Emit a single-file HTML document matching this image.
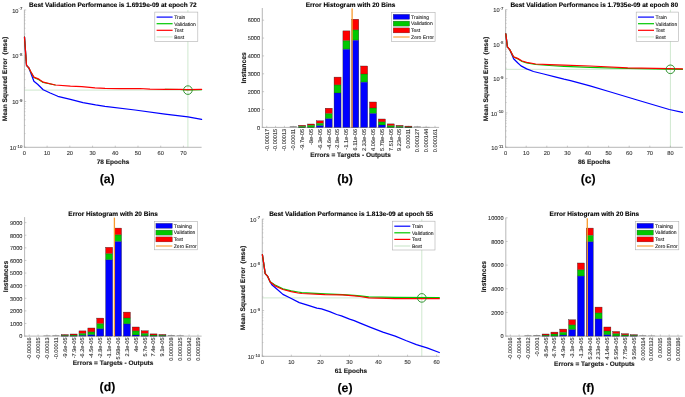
<!DOCTYPE html>
<html><head><meta charset="utf-8"><title>Neural network training plots</title>
<style>
html,body{margin:0;padding:0;background:#fff;}
body{width:685px;height:397px;overflow:hidden;font-family:"Liberation Sans", sans-serif;}
svg{display:block;filter:blur(0.3px);}
.tk{stroke:#444;stroke-width:0.12px;}
.bd{stroke:#000;stroke-width:0.12px;}
svg text{font-family:"Liberation Sans", sans-serif;text-rendering:geometricPrecision;}
</style></head><body>
<svg width="685" height="397" viewBox="0 0 685 397">
<rect width="685" height="397" fill="#fff"/>
<line x1="187.9" y1="10" x2="187.9" y2="147.3" stroke="#cfe8cf" stroke-width="1.0" />
<line x1="24.4" y1="90.1" x2="201.6" y2="90.1" stroke="#cfe8cf" stroke-width="1.0" />
<line x1="24.4" y1="9.8" x2="24.4" y2="147.7" stroke="#a4a4a4" stroke-width="0.8" />
<line x1="24" y1="147.3" x2="201.6" y2="147.3" stroke="#a4a4a4" stroke-width="0.8" />
<line x1="24.4" y1="10" x2="26.2" y2="10" stroke="#a4a4a4" stroke-width="0.6" />
<text x="22.3" y="12.6" font-size="5.7" class="tk" fill="#333333" text-anchor="end">10<tspan font-size="4.3" dy="-2.3">-7</tspan></text>
<line x1="24.4" y1="41.99" x2="25.5" y2="41.99" stroke="#a4a4a4" stroke-width="0.5" />
<line x1="24.4" y1="33.93" x2="25.5" y2="33.93" stroke="#a4a4a4" stroke-width="0.5" />
<line x1="24.4" y1="28.21" x2="25.5" y2="28.21" stroke="#a4a4a4" stroke-width="0.5" />
<line x1="24.4" y1="23.78" x2="25.5" y2="23.78" stroke="#a4a4a4" stroke-width="0.5" />
<line x1="24.4" y1="20.15" x2="25.5" y2="20.15" stroke="#a4a4a4" stroke-width="0.5" />
<line x1="24.4" y1="17.09" x2="25.5" y2="17.09" stroke="#a4a4a4" stroke-width="0.5" />
<line x1="24.4" y1="14.44" x2="25.5" y2="14.44" stroke="#a4a4a4" stroke-width="0.5" />
<line x1="24.4" y1="12.09" x2="25.5" y2="12.09" stroke="#a4a4a4" stroke-width="0.5" />
<line x1="24.4" y1="55.77" x2="26.2" y2="55.77" stroke="#a4a4a4" stroke-width="0.6" />
<text x="22.3" y="58.37" font-size="5.7" class="tk" fill="#333333" text-anchor="end">10<tspan font-size="4.3" dy="-2.3">-8</tspan></text>
<line x1="24.4" y1="87.76" x2="25.5" y2="87.76" stroke="#a4a4a4" stroke-width="0.5" />
<line x1="24.4" y1="79.7" x2="25.5" y2="79.7" stroke="#a4a4a4" stroke-width="0.5" />
<line x1="24.4" y1="73.98" x2="25.5" y2="73.98" stroke="#a4a4a4" stroke-width="0.5" />
<line x1="24.4" y1="69.54" x2="25.5" y2="69.54" stroke="#a4a4a4" stroke-width="0.5" />
<line x1="24.4" y1="65.92" x2="25.5" y2="65.92" stroke="#a4a4a4" stroke-width="0.5" />
<line x1="24.4" y1="62.86" x2="25.5" y2="62.86" stroke="#a4a4a4" stroke-width="0.5" />
<line x1="24.4" y1="60.2" x2="25.5" y2="60.2" stroke="#a4a4a4" stroke-width="0.5" />
<line x1="24.4" y1="57.86" x2="25.5" y2="57.86" stroke="#a4a4a4" stroke-width="0.5" />
<line x1="24.4" y1="101.53" x2="26.2" y2="101.53" stroke="#a4a4a4" stroke-width="0.6" />
<text x="22.3" y="104.13" font-size="5.7" class="tk" fill="#333333" text-anchor="end">10<tspan font-size="4.3" dy="-2.3">-9</tspan></text>
<line x1="24.4" y1="133.52" x2="25.5" y2="133.52" stroke="#a4a4a4" stroke-width="0.5" />
<line x1="24.4" y1="125.46" x2="25.5" y2="125.46" stroke="#a4a4a4" stroke-width="0.5" />
<line x1="24.4" y1="119.75" x2="25.5" y2="119.75" stroke="#a4a4a4" stroke-width="0.5" />
<line x1="24.4" y1="115.31" x2="25.5" y2="115.31" stroke="#a4a4a4" stroke-width="0.5" />
<line x1="24.4" y1="111.69" x2="25.5" y2="111.69" stroke="#a4a4a4" stroke-width="0.5" />
<line x1="24.4" y1="108.62" x2="25.5" y2="108.62" stroke="#a4a4a4" stroke-width="0.5" />
<line x1="24.4" y1="105.97" x2="25.5" y2="105.97" stroke="#a4a4a4" stroke-width="0.5" />
<line x1="24.4" y1="103.63" x2="25.5" y2="103.63" stroke="#a4a4a4" stroke-width="0.5" />
<line x1="24.4" y1="147.3" x2="26.2" y2="147.3" stroke="#a4a4a4" stroke-width="0.6" />
<text x="22.3" y="149.9" font-size="5.7" class="tk" fill="#333333" text-anchor="end">10<tspan font-size="4.3" dy="-2.3">-10</tspan></text>
<line x1="24.4" y1="147.3" x2="24.4" y2="145.7" stroke="#a4a4a4" stroke-width="0.6" />
<text x="24.4" y="155.2" font-size="5.7" font-weight="normal" text-anchor="middle" fill="#333333" class="tk">0</text>
<line x1="47.12" y1="147.3" x2="47.12" y2="145.7" stroke="#a4a4a4" stroke-width="0.6" />
<text x="47.12" y="155.2" font-size="5.7" font-weight="normal" text-anchor="middle" fill="#333333" class="tk">10</text>
<line x1="69.84" y1="147.3" x2="69.84" y2="145.7" stroke="#a4a4a4" stroke-width="0.6" />
<text x="69.84" y="155.2" font-size="5.7" font-weight="normal" text-anchor="middle" fill="#333333" class="tk">20</text>
<line x1="92.55" y1="147.3" x2="92.55" y2="145.7" stroke="#a4a4a4" stroke-width="0.6" />
<text x="92.55" y="155.2" font-size="5.7" font-weight="normal" text-anchor="middle" fill="#333333" class="tk">30</text>
<line x1="115.27" y1="147.3" x2="115.27" y2="145.7" stroke="#a4a4a4" stroke-width="0.6" />
<text x="115.27" y="155.2" font-size="5.7" font-weight="normal" text-anchor="middle" fill="#333333" class="tk">40</text>
<line x1="137.99" y1="147.3" x2="137.99" y2="145.7" stroke="#a4a4a4" stroke-width="0.6" />
<text x="137.99" y="155.2" font-size="5.7" font-weight="normal" text-anchor="middle" fill="#333333" class="tk">50</text>
<line x1="160.71" y1="147.3" x2="160.71" y2="145.7" stroke="#a4a4a4" stroke-width="0.6" />
<text x="160.71" y="155.2" font-size="5.7" font-weight="normal" text-anchor="middle" fill="#333333" class="tk">60</text>
<line x1="183.43" y1="147.3" x2="183.43" y2="145.7" stroke="#a4a4a4" stroke-width="0.6" />
<text x="183.43" y="155.2" font-size="5.7" font-weight="normal" text-anchor="middle" fill="#333333" class="tk">70</text>
<polyline points="24.5,37.1 26.5,65.3 28.8,67.8 33.9,81.2 37.6,84.2 43.2,89.7 50.2,93 57.8,96.3 70.4,99.3 83,102.6 95.6,104.9 105,106.3 135,110 165,114.1 188,116.8 201.6,119.4" fill="none" stroke="#0000ff" stroke-width="1.25" stroke-linejoin="round" stroke-linecap="round"/>
<polyline points="24.5,37.1 26.5,65.3 28.8,67.9 31,72.2 33.9,77.5 38.9,79.7 43.2,82.5 55.3,85" fill="none" stroke="#00c800" stroke-width="1.1" stroke-linejoin="round" stroke-linecap="round"/>
<polyline points="165,89.3 180,89.5 187,90 201.6,89.6" fill="none" stroke="#00c800" stroke-width="1.1" stroke-linejoin="round" stroke-linecap="round"/>
<polyline points="24.5,37.1 26.5,65.3 28.8,67.8 31,72 33.9,77.1 38.9,79.2 43.2,82.2 55.3,85 70.4,86.2 81.8,86.6 95,87.8 105,88.4 120,88.7 140,88.5 150,89.1 165,89.3 180,89.3 187,89.6 201.6,89.3" fill="none" stroke="#ff0000" stroke-width="1.25" stroke-linejoin="round" stroke-linecap="round"/>
<circle cx="187.9" cy="90.1" r="4.3" fill="none" stroke="#1e8a1e" stroke-width="0.9"/>
<text x="112.9" y="6.9" font-size="6.5" font-weight="bold" text-anchor="middle" fill="#000" class="bd">Best Validation Performance is 1.6919e-09 at epoch 72</text>
<text x="113" y="164.2" font-size="6.5" font-weight="bold" text-anchor="middle" fill="#222" class="bd">78 Epochs</text>
<text transform="translate(7.3,79) rotate(-90)" class="bd" font-size="6.6" font-weight="bold" text-anchor="middle" fill="#111">Mean Squared Error&#160;&#160;(mse)</text>
<rect x="154.8" y="12.1" width="43" height="29.2" fill="#fff" stroke="#b0b0b0" stroke-width="0.6"/>
<line x1="156.6" y1="17.1" x2="172.6" y2="17.1" stroke="#0000ff" stroke-width="1.2" />
<text x="174.2" y="18.9" font-size="5.0" font-weight="normal" text-anchor="start" fill="#222" class="tk">Train</text>
<line x1="156.6" y1="23.7" x2="172.6" y2="23.7" stroke="#00c800" stroke-width="1.2" />
<text x="174.2" y="25.5" font-size="5.0" font-weight="normal" text-anchor="start" fill="#222" class="tk">Validation</text>
<line x1="156.6" y1="30.3" x2="172.6" y2="30.3" stroke="#ff0000" stroke-width="1.2" />
<text x="174.2" y="32.1" font-size="5.0" font-weight="normal" text-anchor="start" fill="#222" class="tk">Test</text>
<line x1="156.6" y1="36.9" x2="172.6" y2="36.9" stroke="#cfe8cf" stroke-width="1.2" />
<text x="174.2" y="38.7" font-size="5.0" font-weight="normal" text-anchor="start" fill="#222" class="tk">Best</text>
<text x="107.2" y="182.8" font-size="12.3" font-weight="bold" text-anchor="middle" fill="#000" class="bd">(a)</text>
<line x1="670.4" y1="9.7" x2="670.4" y2="147.3" stroke="#cfe8cf" stroke-width="1.0" />
<line x1="505.6" y1="69.3" x2="682.8" y2="69.3" stroke="#cfe8cf" stroke-width="1.0" />
<line x1="505.6" y1="9.5" x2="505.6" y2="147.7" stroke="#a4a4a4" stroke-width="0.8" />
<line x1="505.2" y1="147.3" x2="682.8" y2="147.3" stroke="#a4a4a4" stroke-width="0.8" />
<line x1="505.6" y1="9.7" x2="507.4" y2="9.7" stroke="#a4a4a4" stroke-width="0.6" />
<text x="503.5" y="12.3" font-size="5.7" class="tk" fill="#333333" text-anchor="end">10<tspan font-size="4.3" dy="-2.3">-7</tspan></text>
<line x1="505.6" y1="33.74" x2="506.7" y2="33.74" stroke="#a4a4a4" stroke-width="0.5" />
<line x1="505.6" y1="27.69" x2="506.7" y2="27.69" stroke="#a4a4a4" stroke-width="0.5" />
<line x1="505.6" y1="23.39" x2="506.7" y2="23.39" stroke="#a4a4a4" stroke-width="0.5" />
<line x1="505.6" y1="20.06" x2="506.7" y2="20.06" stroke="#a4a4a4" stroke-width="0.5" />
<line x1="505.6" y1="17.33" x2="506.7" y2="17.33" stroke="#a4a4a4" stroke-width="0.5" />
<line x1="505.6" y1="15.03" x2="506.7" y2="15.03" stroke="#a4a4a4" stroke-width="0.5" />
<line x1="505.6" y1="13.03" x2="506.7" y2="13.03" stroke="#a4a4a4" stroke-width="0.5" />
<line x1="505.6" y1="11.27" x2="506.7" y2="11.27" stroke="#a4a4a4" stroke-width="0.5" />
<line x1="505.6" y1="44.1" x2="507.4" y2="44.1" stroke="#a4a4a4" stroke-width="0.6" />
<text x="503.5" y="46.7" font-size="5.7" class="tk" fill="#333333" text-anchor="end">10<tspan font-size="4.3" dy="-2.3">-8</tspan></text>
<line x1="505.6" y1="68.14" x2="506.7" y2="68.14" stroke="#a4a4a4" stroke-width="0.5" />
<line x1="505.6" y1="62.09" x2="506.7" y2="62.09" stroke="#a4a4a4" stroke-width="0.5" />
<line x1="505.6" y1="57.79" x2="506.7" y2="57.79" stroke="#a4a4a4" stroke-width="0.5" />
<line x1="505.6" y1="54.46" x2="506.7" y2="54.46" stroke="#a4a4a4" stroke-width="0.5" />
<line x1="505.6" y1="51.73" x2="506.7" y2="51.73" stroke="#a4a4a4" stroke-width="0.5" />
<line x1="505.6" y1="49.43" x2="506.7" y2="49.43" stroke="#a4a4a4" stroke-width="0.5" />
<line x1="505.6" y1="47.43" x2="506.7" y2="47.43" stroke="#a4a4a4" stroke-width="0.5" />
<line x1="505.6" y1="45.67" x2="506.7" y2="45.67" stroke="#a4a4a4" stroke-width="0.5" />
<line x1="505.6" y1="78.5" x2="507.4" y2="78.5" stroke="#a4a4a4" stroke-width="0.6" />
<text x="503.5" y="81.1" font-size="5.7" class="tk" fill="#333333" text-anchor="end">10<tspan font-size="4.3" dy="-2.3">-9</tspan></text>
<line x1="505.6" y1="102.54" x2="506.7" y2="102.54" stroke="#a4a4a4" stroke-width="0.5" />
<line x1="505.6" y1="96.49" x2="506.7" y2="96.49" stroke="#a4a4a4" stroke-width="0.5" />
<line x1="505.6" y1="92.19" x2="506.7" y2="92.19" stroke="#a4a4a4" stroke-width="0.5" />
<line x1="505.6" y1="88.86" x2="506.7" y2="88.86" stroke="#a4a4a4" stroke-width="0.5" />
<line x1="505.6" y1="86.13" x2="506.7" y2="86.13" stroke="#a4a4a4" stroke-width="0.5" />
<line x1="505.6" y1="83.83" x2="506.7" y2="83.83" stroke="#a4a4a4" stroke-width="0.5" />
<line x1="505.6" y1="81.83" x2="506.7" y2="81.83" stroke="#a4a4a4" stroke-width="0.5" />
<line x1="505.6" y1="80.07" x2="506.7" y2="80.07" stroke="#a4a4a4" stroke-width="0.5" />
<line x1="505.6" y1="112.9" x2="507.4" y2="112.9" stroke="#a4a4a4" stroke-width="0.6" />
<text x="503.5" y="115.5" font-size="5.7" class="tk" fill="#333333" text-anchor="end">10<tspan font-size="4.3" dy="-2.3">-10</tspan></text>
<line x1="505.6" y1="136.94" x2="506.7" y2="136.94" stroke="#a4a4a4" stroke-width="0.5" />
<line x1="505.6" y1="130.89" x2="506.7" y2="130.89" stroke="#a4a4a4" stroke-width="0.5" />
<line x1="505.6" y1="126.59" x2="506.7" y2="126.59" stroke="#a4a4a4" stroke-width="0.5" />
<line x1="505.6" y1="123.26" x2="506.7" y2="123.26" stroke="#a4a4a4" stroke-width="0.5" />
<line x1="505.6" y1="120.53" x2="506.7" y2="120.53" stroke="#a4a4a4" stroke-width="0.5" />
<line x1="505.6" y1="118.23" x2="506.7" y2="118.23" stroke="#a4a4a4" stroke-width="0.5" />
<line x1="505.6" y1="116.23" x2="506.7" y2="116.23" stroke="#a4a4a4" stroke-width="0.5" />
<line x1="505.6" y1="114.47" x2="506.7" y2="114.47" stroke="#a4a4a4" stroke-width="0.5" />
<line x1="505.6" y1="147.3" x2="507.4" y2="147.3" stroke="#a4a4a4" stroke-width="0.6" />
<text x="503.5" y="149.9" font-size="5.7" class="tk" fill="#333333" text-anchor="end">10<tspan font-size="4.3" dy="-2.3">-11</tspan></text>
<line x1="505.6" y1="147.3" x2="505.6" y2="145.7" stroke="#a4a4a4" stroke-width="0.6" />
<text x="505.6" y="155.2" font-size="5.7" font-weight="normal" text-anchor="middle" fill="#333333" class="tk">0</text>
<line x1="526.2" y1="147.3" x2="526.2" y2="145.7" stroke="#a4a4a4" stroke-width="0.6" />
<text x="526.2" y="155.2" font-size="5.7" font-weight="normal" text-anchor="middle" fill="#333333" class="tk">10</text>
<line x1="546.8" y1="147.3" x2="546.8" y2="145.7" stroke="#a4a4a4" stroke-width="0.6" />
<text x="546.8" y="155.2" font-size="5.7" font-weight="normal" text-anchor="middle" fill="#333333" class="tk">20</text>
<line x1="567.4" y1="147.3" x2="567.4" y2="145.7" stroke="#a4a4a4" stroke-width="0.6" />
<text x="567.4" y="155.2" font-size="5.7" font-weight="normal" text-anchor="middle" fill="#333333" class="tk">30</text>
<line x1="588" y1="147.3" x2="588" y2="145.7" stroke="#a4a4a4" stroke-width="0.6" />
<text x="588" y="155.2" font-size="5.7" font-weight="normal" text-anchor="middle" fill="#333333" class="tk">40</text>
<line x1="608.6" y1="147.3" x2="608.6" y2="145.7" stroke="#a4a4a4" stroke-width="0.6" />
<text x="608.6" y="155.2" font-size="5.7" font-weight="normal" text-anchor="middle" fill="#333333" class="tk">50</text>
<line x1="629.2" y1="147.3" x2="629.2" y2="145.7" stroke="#a4a4a4" stroke-width="0.6" />
<text x="629.2" y="155.2" font-size="5.7" font-weight="normal" text-anchor="middle" fill="#333333" class="tk">60</text>
<line x1="649.8" y1="147.3" x2="649.8" y2="145.7" stroke="#a4a4a4" stroke-width="0.6" />
<text x="649.8" y="155.2" font-size="5.7" font-weight="normal" text-anchor="middle" fill="#333333" class="tk">70</text>
<line x1="670.4" y1="147.3" x2="670.4" y2="145.7" stroke="#a4a4a4" stroke-width="0.6" />
<text x="670.4" y="155.2" font-size="5.7" font-weight="normal" text-anchor="middle" fill="#333333" class="tk">80</text>
<polyline points="505.8,33.8 507.4,46.8 509.7,49.6 513.6,58.7 517.6,62.7 521,65.9 526.7,68.9 533.5,71.5 543.7,74 555,76.8 564,79.1 570.5,80.6 590,85.9 608.9,91.5 637.2,100 669.3,109.5 682.5,112.3" fill="none" stroke="#0000ff" stroke-width="1.25" stroke-linejoin="round" stroke-linecap="round"/>
<polyline points="505.8,33.8 507.4,46.8 509.7,49.6 513.6,57 517.6,58.8 522.1,61.5 526.7,63 535.7,64.5 549.4,65.5 564,66.3 590,67.4 627.8,68.5 682.5,69.3" fill="none" stroke="#00c800" stroke-width="1.25" stroke-linejoin="round" stroke-linecap="round"/>
<polyline points="505.8,33.8 507.4,46.8 509.7,49.6 513.6,56.8 517.6,58.4 522.1,61 526.7,62.4 535.7,64 549.4,64.7 564,65.2 590,66 627.8,67.9 682.5,68.9" fill="none" stroke="#ff0000" stroke-width="1.25" stroke-linejoin="round" stroke-linecap="round"/>
<circle cx="670.4" cy="69.3" r="4.3" fill="none" stroke="#1e8a1e" stroke-width="0.9"/>
<text x="594.2" y="6.9" font-size="6.5" font-weight="bold" text-anchor="middle" fill="#000" class="bd">Best Validation Performance is 1.7935e-09 at epoch 80</text>
<text x="594.2" y="164.2" font-size="6.5" font-weight="bold" text-anchor="middle" fill="#222" class="bd">86 Epochs</text>
<text transform="translate(487.6,79) rotate(-90)" class="bd" font-size="6.6" font-weight="bold" text-anchor="middle" fill="#111">Mean Squared Error&#160;&#160;(mse)</text>
<rect x="636.2" y="12.1" width="42.3" height="29.2" fill="#fff" stroke="#b0b0b0" stroke-width="0.6"/>
<line x1="638" y1="17.1" x2="654" y2="17.1" stroke="#0000ff" stroke-width="1.2" />
<text x="655.6" y="18.9" font-size="5.0" font-weight="normal" text-anchor="start" fill="#222" class="tk">Train</text>
<line x1="638" y1="23.7" x2="654" y2="23.7" stroke="#00c800" stroke-width="1.2" />
<text x="655.6" y="25.5" font-size="5.0" font-weight="normal" text-anchor="start" fill="#222" class="tk">Validation</text>
<line x1="638" y1="30.3" x2="654" y2="30.3" stroke="#ff0000" stroke-width="1.2" />
<text x="655.6" y="32.1" font-size="5.0" font-weight="normal" text-anchor="start" fill="#222" class="tk">Test</text>
<line x1="638" y1="36.9" x2="654" y2="36.9" stroke="#cfe8cf" stroke-width="1.2" />
<text x="655.6" y="38.7" font-size="5.0" font-weight="normal" text-anchor="start" fill="#222" class="tk">Best</text>
<text x="588.2" y="182.8" font-size="12.3" font-weight="bold" text-anchor="middle" fill="#000" class="bd">(c)</text>
<line x1="421.8" y1="219.1" x2="421.8" y2="356.3" stroke="#cfe8cf" stroke-width="1.0" />
<line x1="262.3" y1="297.9" x2="439.5" y2="297.9" stroke="#cfe8cf" stroke-width="1.0" />
<line x1="262.3" y1="218.9" x2="262.3" y2="356.7" stroke="#a4a4a4" stroke-width="0.8" />
<line x1="261.9" y1="356.3" x2="439.5" y2="356.3" stroke="#a4a4a4" stroke-width="0.8" />
<line x1="262.3" y1="219.1" x2="264.1" y2="219.1" stroke="#a4a4a4" stroke-width="0.6" />
<text x="260.2" y="221.7" font-size="5.7" class="tk" fill="#333333" text-anchor="end">10<tspan font-size="4.3" dy="-2.3">-7</tspan></text>
<line x1="262.3" y1="251.07" x2="263.4" y2="251.07" stroke="#a4a4a4" stroke-width="0.5" />
<line x1="262.3" y1="243.01" x2="263.4" y2="243.01" stroke="#a4a4a4" stroke-width="0.5" />
<line x1="262.3" y1="237.3" x2="263.4" y2="237.3" stroke="#a4a4a4" stroke-width="0.5" />
<line x1="262.3" y1="232.87" x2="263.4" y2="232.87" stroke="#a4a4a4" stroke-width="0.5" />
<line x1="262.3" y1="229.25" x2="263.4" y2="229.25" stroke="#a4a4a4" stroke-width="0.5" />
<line x1="262.3" y1="226.18" x2="263.4" y2="226.18" stroke="#a4a4a4" stroke-width="0.5" />
<line x1="262.3" y1="223.53" x2="263.4" y2="223.53" stroke="#a4a4a4" stroke-width="0.5" />
<line x1="262.3" y1="221.19" x2="263.4" y2="221.19" stroke="#a4a4a4" stroke-width="0.5" />
<line x1="262.3" y1="264.83" x2="264.1" y2="264.83" stroke="#a4a4a4" stroke-width="0.6" />
<text x="260.2" y="267.43" font-size="5.7" class="tk" fill="#333333" text-anchor="end">10<tspan font-size="4.3" dy="-2.3">-8</tspan></text>
<line x1="262.3" y1="296.8" x2="263.4" y2="296.8" stroke="#a4a4a4" stroke-width="0.5" />
<line x1="262.3" y1="288.75" x2="263.4" y2="288.75" stroke="#a4a4a4" stroke-width="0.5" />
<line x1="262.3" y1="283.03" x2="263.4" y2="283.03" stroke="#a4a4a4" stroke-width="0.5" />
<line x1="262.3" y1="278.6" x2="263.4" y2="278.6" stroke="#a4a4a4" stroke-width="0.5" />
<line x1="262.3" y1="274.98" x2="263.4" y2="274.98" stroke="#a4a4a4" stroke-width="0.5" />
<line x1="262.3" y1="271.92" x2="263.4" y2="271.92" stroke="#a4a4a4" stroke-width="0.5" />
<line x1="262.3" y1="269.27" x2="263.4" y2="269.27" stroke="#a4a4a4" stroke-width="0.5" />
<line x1="262.3" y1="266.93" x2="263.4" y2="266.93" stroke="#a4a4a4" stroke-width="0.5" />
<line x1="262.3" y1="310.57" x2="264.1" y2="310.57" stroke="#a4a4a4" stroke-width="0.6" />
<text x="260.2" y="313.17" font-size="5.7" class="tk" fill="#333333" text-anchor="end">10<tspan font-size="4.3" dy="-2.3">-9</tspan></text>
<line x1="262.3" y1="342.53" x2="263.4" y2="342.53" stroke="#a4a4a4" stroke-width="0.5" />
<line x1="262.3" y1="334.48" x2="263.4" y2="334.48" stroke="#a4a4a4" stroke-width="0.5" />
<line x1="262.3" y1="328.77" x2="263.4" y2="328.77" stroke="#a4a4a4" stroke-width="0.5" />
<line x1="262.3" y1="324.33" x2="263.4" y2="324.33" stroke="#a4a4a4" stroke-width="0.5" />
<line x1="262.3" y1="320.71" x2="263.4" y2="320.71" stroke="#a4a4a4" stroke-width="0.5" />
<line x1="262.3" y1="317.65" x2="263.4" y2="317.65" stroke="#a4a4a4" stroke-width="0.5" />
<line x1="262.3" y1="315" x2="263.4" y2="315" stroke="#a4a4a4" stroke-width="0.5" />
<line x1="262.3" y1="312.66" x2="263.4" y2="312.66" stroke="#a4a4a4" stroke-width="0.5" />
<line x1="262.3" y1="356.3" x2="264.1" y2="356.3" stroke="#a4a4a4" stroke-width="0.6" />
<text x="260.2" y="358.9" font-size="5.7" class="tk" fill="#333333" text-anchor="end">10<tspan font-size="4.3" dy="-2.3">-10</tspan></text>
<line x1="262.3" y1="356.3" x2="262.3" y2="354.7" stroke="#a4a4a4" stroke-width="0.6" />
<text x="262.3" y="364.2" font-size="5.7" font-weight="normal" text-anchor="middle" fill="#333333" class="tk">0</text>
<line x1="291.35" y1="356.3" x2="291.35" y2="354.7" stroke="#a4a4a4" stroke-width="0.6" />
<text x="291.35" y="364.2" font-size="5.7" font-weight="normal" text-anchor="middle" fill="#333333" class="tk">10</text>
<line x1="320.4" y1="356.3" x2="320.4" y2="354.7" stroke="#a4a4a4" stroke-width="0.6" />
<text x="320.4" y="364.2" font-size="5.7" font-weight="normal" text-anchor="middle" fill="#333333" class="tk">20</text>
<line x1="349.45" y1="356.3" x2="349.45" y2="354.7" stroke="#a4a4a4" stroke-width="0.6" />
<text x="349.45" y="364.2" font-size="5.7" font-weight="normal" text-anchor="middle" fill="#333333" class="tk">30</text>
<line x1="378.5" y1="356.3" x2="378.5" y2="354.7" stroke="#a4a4a4" stroke-width="0.6" />
<text x="378.5" y="364.2" font-size="5.7" font-weight="normal" text-anchor="middle" fill="#333333" class="tk">40</text>
<line x1="407.55" y1="356.3" x2="407.55" y2="354.7" stroke="#a4a4a4" stroke-width="0.6" />
<text x="407.55" y="364.2" font-size="5.7" font-weight="normal" text-anchor="middle" fill="#333333" class="tk">50</text>
<line x1="436.6" y1="356.3" x2="436.6" y2="354.7" stroke="#a4a4a4" stroke-width="0.6" />
<text x="436.6" y="364.2" font-size="5.7" font-weight="normal" text-anchor="middle" fill="#333333" class="tk">60</text>
<polyline points="262.4,254.6 265.2,273.6 267.7,276.4 270.2,281.9 271.8,284.7 277.4,289.5 282.9,294.4 289.8,297.8 299.3,302.6 307.5,305.2 316.9,308.1 321.5,308.9 329.7,311.6 336.7,314.5 341.4,315.9 349.6,319.2 354.2,320.6 360.1,323.1 370.6,327.3 382.9,332.2 395.2,336.1 405.8,340.5 416.4,344.6 427,347.9 439.3,352.5" fill="none" stroke="#0000ff" stroke-width="1.25" stroke-linejoin="round" stroke-linecap="round"/>
<polyline points="262.4,254.6 265.2,273.6 267.7,276.4 270.2,281.9 274.6,284.7 282.9,288.8 291.2,290.9 298,292 301.7,292.6 325,293.9 342.6,294.7 354.2,295.3 360,295.9 368.8,296.8 395.2,297.3 439.3,297.7" fill="none" stroke="#00c800" stroke-width="1.25" stroke-linejoin="round" stroke-linecap="round"/>
<polyline points="262.4,254.6 265.2,273.6 267.7,276.4 270.2,281.9 274.6,285.6 282.9,289.5 291.2,291.6 298,293 301.7,293.5 325,294.7 342.6,294.9 354.2,295.8 360,296.5 368.8,297.9 395.2,298.7 439.3,298.7" fill="none" stroke="#ff0000" stroke-width="1.25" stroke-linejoin="round" stroke-linecap="round"/>
<circle cx="421.8" cy="297.9" r="4.3" fill="none" stroke="#1e8a1e" stroke-width="0.9"/>
<text x="351.2" y="216.1" font-size="6.5" font-weight="bold" text-anchor="middle" fill="#000" class="bd">Best Validation Performance is 1.813e-09 at epoch 55</text>
<text x="350.9" y="373.2" font-size="6.5" font-weight="bold" text-anchor="middle" fill="#222" class="bd">61 Epochs</text>
<text transform="translate(244.7,288) rotate(-90)" class="bd" font-size="6.6" font-weight="bold" text-anchor="middle" fill="#111">Mean Squared Error&#160;&#160;(mse)</text>
<rect x="392.5" y="221.2" width="42.5" height="28.8" fill="#fff" stroke="#b0b0b0" stroke-width="0.6"/>
<line x1="394.3" y1="226.2" x2="410.3" y2="226.2" stroke="#0000ff" stroke-width="1.2" />
<text x="411.9" y="228" font-size="5.0" font-weight="normal" text-anchor="start" fill="#222" class="tk">Train</text>
<line x1="394.3" y1="232.8" x2="410.3" y2="232.8" stroke="#00c800" stroke-width="1.2" />
<text x="411.9" y="234.6" font-size="5.0" font-weight="normal" text-anchor="start" fill="#222" class="tk">Validation</text>
<line x1="394.3" y1="239.4" x2="410.3" y2="239.4" stroke="#ff0000" stroke-width="1.2" />
<text x="411.9" y="241.2" font-size="5.0" font-weight="normal" text-anchor="start" fill="#222" class="tk">Test</text>
<line x1="394.3" y1="246" x2="410.3" y2="246" stroke="#cfe8cf" stroke-width="1.2" />
<text x="411.9" y="247.8" font-size="5.0" font-weight="normal" text-anchor="start" fill="#222" class="tk">Best</text>
<text x="345" y="391.6" font-size="12.3" font-weight="bold" text-anchor="middle" fill="#000" class="bd">(e)</text>
<line x1="262.3" y1="8" x2="262.3" y2="127.8" stroke="#a4a4a4" stroke-width="0.8" />
<line x1="261.9" y1="127.4" x2="439.1" y2="127.4" stroke="#a4a4a4" stroke-width="0.8" />
<line x1="262.3" y1="127.4" x2="264.1" y2="127.4" stroke="#a4a4a4" stroke-width="0.6" />
<text x="260.1" y="129.7" font-size="5.6" font-weight="normal" text-anchor="end" fill="#333333" class="tk">0</text>
<line x1="262.3" y1="109.53" x2="264.1" y2="109.53" stroke="#a4a4a4" stroke-width="0.6" />
<text x="260.1" y="111.83" font-size="5.6" font-weight="normal" text-anchor="end" fill="#333333" class="tk">1000</text>
<line x1="262.3" y1="91.66" x2="264.1" y2="91.66" stroke="#a4a4a4" stroke-width="0.6" />
<text x="260.1" y="93.96" font-size="5.6" font-weight="normal" text-anchor="end" fill="#333333" class="tk">2000</text>
<line x1="262.3" y1="73.79" x2="264.1" y2="73.79" stroke="#a4a4a4" stroke-width="0.6" />
<text x="260.1" y="76.09" font-size="5.6" font-weight="normal" text-anchor="end" fill="#333333" class="tk">3000</text>
<line x1="262.3" y1="55.92" x2="264.1" y2="55.92" stroke="#a4a4a4" stroke-width="0.6" />
<text x="260.1" y="58.22" font-size="5.6" font-weight="normal" text-anchor="end" fill="#333333" class="tk">4000</text>
<line x1="262.3" y1="38.05" x2="264.1" y2="38.05" stroke="#a4a4a4" stroke-width="0.6" />
<text x="260.1" y="40.35" font-size="5.6" font-weight="normal" text-anchor="end" fill="#333333" class="tk">5000</text>
<line x1="262.3" y1="20.18" x2="264.1" y2="20.18" stroke="#a4a4a4" stroke-width="0.6" />
<text x="260.1" y="22.48" font-size="5.6" font-weight="normal" text-anchor="end" fill="#333333" class="tk">6000</text>
<line x1="266.7" y1="127.4" x2="266.7" y2="125.8" stroke="#a4a4a4" stroke-width="0.6" />
<line x1="275.56" y1="127.4" x2="275.56" y2="125.8" stroke="#a4a4a4" stroke-width="0.6" />
<line x1="284.42" y1="127.4" x2="284.42" y2="125.8" stroke="#a4a4a4" stroke-width="0.6" />
<line x1="293.27" y1="127.4" x2="293.27" y2="125.8" stroke="#a4a4a4" stroke-width="0.6" />
<line x1="302.13" y1="127.4" x2="302.13" y2="125.8" stroke="#a4a4a4" stroke-width="0.6" />
<line x1="310.99" y1="127.4" x2="310.99" y2="125.8" stroke="#a4a4a4" stroke-width="0.6" />
<line x1="319.85" y1="127.4" x2="319.85" y2="125.8" stroke="#a4a4a4" stroke-width="0.6" />
<line x1="328.71" y1="127.4" x2="328.71" y2="125.8" stroke="#a4a4a4" stroke-width="0.6" />
<line x1="337.56" y1="127.4" x2="337.56" y2="125.8" stroke="#a4a4a4" stroke-width="0.6" />
<line x1="346.42" y1="127.4" x2="346.42" y2="125.8" stroke="#a4a4a4" stroke-width="0.6" />
<line x1="355.28" y1="127.4" x2="355.28" y2="125.8" stroke="#a4a4a4" stroke-width="0.6" />
<line x1="364.14" y1="127.4" x2="364.14" y2="125.8" stroke="#a4a4a4" stroke-width="0.6" />
<line x1="373" y1="127.4" x2="373" y2="125.8" stroke="#a4a4a4" stroke-width="0.6" />
<line x1="381.85" y1="127.4" x2="381.85" y2="125.8" stroke="#a4a4a4" stroke-width="0.6" />
<line x1="390.71" y1="127.4" x2="390.71" y2="125.8" stroke="#a4a4a4" stroke-width="0.6" />
<line x1="399.57" y1="127.4" x2="399.57" y2="125.8" stroke="#a4a4a4" stroke-width="0.6" />
<line x1="408.43" y1="127.4" x2="408.43" y2="125.8" stroke="#a4a4a4" stroke-width="0.6" />
<line x1="417.29" y1="127.4" x2="417.29" y2="125.8" stroke="#a4a4a4" stroke-width="0.6" />
<line x1="426.14" y1="127.4" x2="426.14" y2="125.8" stroke="#a4a4a4" stroke-width="0.6" />
<line x1="435" y1="127.4" x2="435" y2="125.8" stroke="#a4a4a4" stroke-width="0.6" />
<rect x="289.77" y="126.2" width="7" height="1.2" fill="#8a8a8a"/>
<rect x="298.63" y="125.3" width="7" height="1" fill="#ff0000"/>
<rect x="298.63" y="126.3" width="7" height="1.2" fill="#00c800"/>
<rect x="298.63" y="125.3" width="7" height="2.1" fill="none" stroke="#202020" stroke-width="0.35"/>
<line x1="298.63" y1="126.3" x2="305.63" y2="126.3" stroke="#202020" stroke-width="0.3" />
<line x1="298.63" y1="127.5" x2="305.63" y2="127.5" stroke="#202020" stroke-width="0.3" />
<rect x="307.49" y="124" width="7" height="1.3" fill="#ff0000"/>
<rect x="307.49" y="125.3" width="7" height="2.1" fill="#00c800"/>
<rect x="307.49" y="124" width="7" height="3.4" fill="none" stroke="#202020" stroke-width="0.35"/>
<line x1="307.49" y1="125.3" x2="314.49" y2="125.3" stroke="#202020" stroke-width="0.3" />
<line x1="307.49" y1="127.4" x2="314.49" y2="127.4" stroke="#202020" stroke-width="0.3" />
<rect x="316.35" y="120.8" width="7" height="2.5" fill="#ff0000"/>
<rect x="316.35" y="123.3" width="7" height="2.4" fill="#00c800"/>
<rect x="316.35" y="125.7" width="7" height="1.7" fill="#0000ff"/>
<rect x="316.35" y="120.8" width="7" height="6.6" fill="none" stroke="#202020" stroke-width="0.35"/>
<line x1="316.35" y1="123.3" x2="323.35" y2="123.3" stroke="#202020" stroke-width="0.3" />
<line x1="316.35" y1="125.7" x2="323.35" y2="125.7" stroke="#202020" stroke-width="0.3" />
<rect x="325.21" y="108.2" width="7" height="5.4" fill="#ff0000"/>
<rect x="325.21" y="113.6" width="7" height="5.1" fill="#00c800"/>
<rect x="325.21" y="118.7" width="7" height="8.7" fill="#0000ff"/>
<rect x="325.21" y="108.2" width="7" height="19.2" fill="none" stroke="#202020" stroke-width="0.35"/>
<line x1="325.21" y1="113.6" x2="332.21" y2="113.6" stroke="#202020" stroke-width="0.3" />
<line x1="325.21" y1="118.7" x2="332.21" y2="118.7" stroke="#202020" stroke-width="0.3" />
<rect x="334.06" y="77.1" width="7" height="7.8" fill="#ff0000"/>
<rect x="334.06" y="84.9" width="7" height="8.1" fill="#00c800"/>
<rect x="334.06" y="93" width="7" height="34.4" fill="#0000ff"/>
<rect x="334.06" y="77.1" width="7" height="50.3" fill="none" stroke="#202020" stroke-width="0.35"/>
<line x1="334.06" y1="84.9" x2="341.06" y2="84.9" stroke="#202020" stroke-width="0.3" />
<line x1="334.06" y1="93" x2="341.06" y2="93" stroke="#202020" stroke-width="0.3" />
<rect x="342.92" y="30.9" width="7" height="9.8" fill="#ff0000"/>
<rect x="342.92" y="40.7" width="7" height="8.6" fill="#00c800"/>
<rect x="342.92" y="49.3" width="7" height="78.1" fill="#0000ff"/>
<rect x="342.92" y="30.9" width="7" height="96.5" fill="none" stroke="#202020" stroke-width="0.35"/>
<line x1="342.92" y1="40.7" x2="349.92" y2="40.7" stroke="#202020" stroke-width="0.3" />
<line x1="342.92" y1="49.3" x2="349.92" y2="49.3" stroke="#202020" stroke-width="0.3" />
<rect x="351.78" y="19.2" width="7" height="10.7" fill="#ff0000"/>
<rect x="351.78" y="29.9" width="7" height="10.4" fill="#00c800"/>
<rect x="351.78" y="40.3" width="7" height="87.1" fill="#0000ff"/>
<rect x="351.78" y="19.2" width="7" height="108.2" fill="none" stroke="#202020" stroke-width="0.35"/>
<line x1="351.78" y1="29.9" x2="358.78" y2="29.9" stroke="#202020" stroke-width="0.3" />
<line x1="351.78" y1="40.3" x2="358.78" y2="40.3" stroke="#202020" stroke-width="0.3" />
<rect x="360.64" y="66" width="7" height="8" fill="#ff0000"/>
<rect x="360.64" y="74" width="7" height="8.2" fill="#00c800"/>
<rect x="360.64" y="82.2" width="7" height="45.2" fill="#0000ff"/>
<rect x="360.64" y="66" width="7" height="61.4" fill="none" stroke="#202020" stroke-width="0.35"/>
<line x1="360.64" y1="74" x2="367.64" y2="74" stroke="#202020" stroke-width="0.3" />
<line x1="360.64" y1="82.2" x2="367.64" y2="82.2" stroke="#202020" stroke-width="0.3" />
<rect x="369.5" y="102" width="7" height="6" fill="#ff0000"/>
<rect x="369.5" y="108" width="7" height="5.5" fill="#00c800"/>
<rect x="369.5" y="113.5" width="7" height="13.9" fill="#0000ff"/>
<rect x="369.5" y="102" width="7" height="25.4" fill="none" stroke="#202020" stroke-width="0.35"/>
<line x1="369.5" y1="108" x2="376.5" y2="108" stroke="#202020" stroke-width="0.3" />
<line x1="369.5" y1="113.5" x2="376.5" y2="113.5" stroke="#202020" stroke-width="0.3" />
<rect x="378.35" y="119" width="7" height="2.9" fill="#ff0000"/>
<rect x="378.35" y="121.9" width="7" height="3.1" fill="#00c800"/>
<rect x="378.35" y="125" width="7" height="2.4" fill="#0000ff"/>
<rect x="378.35" y="119" width="7" height="8.4" fill="none" stroke="#202020" stroke-width="0.35"/>
<line x1="378.35" y1="121.9" x2="385.35" y2="121.9" stroke="#202020" stroke-width="0.3" />
<line x1="378.35" y1="125" x2="385.35" y2="125" stroke="#202020" stroke-width="0.3" />
<rect x="387.21" y="123.9" width="7" height="1.8" fill="#ff0000"/>
<rect x="387.21" y="125.7" width="7" height="1.7" fill="#00c800"/>
<rect x="387.21" y="123.9" width="7" height="3.5" fill="none" stroke="#202020" stroke-width="0.35"/>
<line x1="387.21" y1="125.7" x2="394.21" y2="125.7" stroke="#202020" stroke-width="0.3" />
<line x1="387.21" y1="127.4" x2="394.21" y2="127.4" stroke="#202020" stroke-width="0.3" />
<rect x="396.07" y="125.4" width="7" height="0.9" fill="#ff0000"/>
<rect x="396.07" y="126.3" width="7" height="1.1" fill="#00c800"/>
<rect x="396.07" y="125.4" width="7" height="2" fill="none" stroke="#202020" stroke-width="0.35"/>
<line x1="396.07" y1="126.3" x2="403.07" y2="126.3" stroke="#202020" stroke-width="0.3" />
<line x1="396.07" y1="127.4" x2="403.07" y2="127.4" stroke="#202020" stroke-width="0.3" />
<rect x="404.93" y="126.1" width="7" height="0.8" fill="#ff0000"/>
<rect x="404.93" y="126.9" width="7" height="0.6" fill="#00c800"/>
<rect x="404.93" y="126.1" width="7" height="1.3" fill="none" stroke="#202020" stroke-width="0.35"/>
<line x1="404.93" y1="126.9" x2="411.93" y2="126.9" stroke="#202020" stroke-width="0.3" />
<line x1="404.93" y1="127.5" x2="411.93" y2="127.5" stroke="#202020" stroke-width="0.3" />
<rect x="413.79" y="126.4" width="7" height="1" fill="#8a8a8a"/>
<rect x="422.64" y="126.9" width="7" height="0.5" fill="#8a8a8a"/>
<text transform="translate(268.6,128.8) rotate(-90)" class="tk" font-size="5.6" text-anchor="end" fill="#333333">-0.00017</text>
<text transform="translate(277.46,128.8) rotate(-90)" class="tk" font-size="5.6" text-anchor="end" fill="#333333">-0.00015</text>
<text transform="translate(286.32,128.8) rotate(-90)" class="tk" font-size="5.6" text-anchor="end" fill="#333333">-0.00013</text>
<text transform="translate(295.17,128.8) rotate(-90)" class="tk" font-size="5.6" text-anchor="end" fill="#333333">-0.00011</text>
<text transform="translate(304.03,128.8) rotate(-90)" class="tk" font-size="5.6" text-anchor="end" fill="#333333">-9.7e-05</text>
<text transform="translate(312.89,128.8) rotate(-90)" class="tk" font-size="5.6" text-anchor="end" fill="#333333">-8e-05</text>
<text transform="translate(321.75,128.8) rotate(-90)" class="tk" font-size="5.6" text-anchor="end" fill="#333333">-6.3e-05</text>
<text transform="translate(330.61,128.8) rotate(-90)" class="tk" font-size="5.6" text-anchor="end" fill="#333333">-4.6e-05</text>
<text transform="translate(339.46,128.8) rotate(-90)" class="tk" font-size="5.6" text-anchor="end" fill="#333333">-2.8e-05</text>
<text transform="translate(348.32,128.8) rotate(-90)" class="tk" font-size="5.6" text-anchor="end" fill="#333333">-1.1e-05</text>
<text transform="translate(357.18,128.8) rotate(-90)" class="tk" font-size="5.6" text-anchor="end" fill="#333333">6.11e-06</text>
<text transform="translate(366.04,128.8) rotate(-90)" class="tk" font-size="5.6" text-anchor="end" fill="#333333">2.33e-05</text>
<text transform="translate(374.9,128.8) rotate(-90)" class="tk" font-size="5.6" text-anchor="end" fill="#333333">4.06e-05</text>
<text transform="translate(383.75,128.8) rotate(-90)" class="tk" font-size="5.6" text-anchor="end" fill="#333333">5.78e-05</text>
<text transform="translate(392.61,128.8) rotate(-90)" class="tk" font-size="5.6" text-anchor="end" fill="#333333">7.51e-05</text>
<text transform="translate(401.47,128.8) rotate(-90)" class="tk" font-size="5.6" text-anchor="end" fill="#333333">9.23e-05</text>
<text transform="translate(410.33,128.8) rotate(-90)" class="tk" font-size="5.6" text-anchor="end" fill="#333333">0.00011</text>
<text transform="translate(419.19,128.8) rotate(-90)" class="tk" font-size="5.6" text-anchor="end" fill="#333333">0.000127</text>
<text transform="translate(428.04,128.8) rotate(-90)" class="tk" font-size="5.6" text-anchor="end" fill="#333333">0.000144</text>
<text transform="translate(436.9,128.8) rotate(-90)" class="tk" font-size="5.6" text-anchor="end" fill="#333333">0.000161</text>
<line x1="352.1" y1="8.5" x2="352.1" y2="127.4" stroke="#f79a2c" stroke-width="1.3" />
<text x="350.5" y="7.2" font-size="6.5" font-weight="bold" text-anchor="middle" fill="#000" class="bd">Error Histogram with 20 Bins</text>
<text x="350.5" y="156.5" font-size="6.5" font-weight="bold" text-anchor="middle" fill="#222" class="bd">Errors = Targets - Outputs</text>
<text transform="translate(245.5,67.9) rotate(-90)" class="bd" font-size="6.8" font-weight="bold" text-anchor="middle" fill="#111">Instances</text>
<rect x="391.6" y="12.4" width="43.5" height="28.9" fill="#fff" stroke="#b0b0b0" stroke-width="0.6"/>
<rect x="393.2" y="14.3" width="16.4" height="5" fill="#0000ff" stroke="#303030" stroke-width="0.3"/>
<text x="411.1" y="18.6" font-size="5.0" font-weight="normal" text-anchor="start" fill="#222" class="tk">Training</text>
<rect x="393.2" y="21.1" width="16.4" height="5" fill="#00c800" stroke="#303030" stroke-width="0.3"/>
<text x="411.1" y="25.4" font-size="5.0" font-weight="normal" text-anchor="start" fill="#222" class="tk">Validation</text>
<rect x="393.2" y="27.9" width="16.4" height="5" fill="#ff0000" stroke="#303030" stroke-width="0.3"/>
<text x="411.1" y="32.2" font-size="5.0" font-weight="normal" text-anchor="start" fill="#222" class="tk">Test</text>
<line x1="393.2" y1="37" x2="409.6" y2="37" stroke="#f79a2c" stroke-width="1.1" />
<text x="411.1" y="38.8" font-size="5.0" font-weight="normal" text-anchor="start" fill="#222" class="tk">Zero Error</text>
<text x="345" y="182.9" font-size="12.3" font-weight="bold" text-anchor="middle" fill="#000" class="bd">(b)</text>
<line x1="24.6" y1="217.1" x2="24.6" y2="336.5" stroke="#a4a4a4" stroke-width="0.8" />
<line x1="24.2" y1="336.1" x2="201.6" y2="336.1" stroke="#a4a4a4" stroke-width="0.8" />
<line x1="24.6" y1="336.1" x2="26.4" y2="336.1" stroke="#a4a4a4" stroke-width="0.6" />
<text x="22.4" y="338.4" font-size="5.6" font-weight="normal" text-anchor="end" fill="#333333" class="tk">0</text>
<line x1="24.6" y1="323.49" x2="26.4" y2="323.49" stroke="#a4a4a4" stroke-width="0.6" />
<text x="22.4" y="325.79" font-size="5.6" font-weight="normal" text-anchor="end" fill="#333333" class="tk">1000</text>
<line x1="24.6" y1="310.88" x2="26.4" y2="310.88" stroke="#a4a4a4" stroke-width="0.6" />
<text x="22.4" y="313.18" font-size="5.6" font-weight="normal" text-anchor="end" fill="#333333" class="tk">2000</text>
<line x1="24.6" y1="298.27" x2="26.4" y2="298.27" stroke="#a4a4a4" stroke-width="0.6" />
<text x="22.4" y="300.57" font-size="5.6" font-weight="normal" text-anchor="end" fill="#333333" class="tk">3000</text>
<line x1="24.6" y1="285.66" x2="26.4" y2="285.66" stroke="#a4a4a4" stroke-width="0.6" />
<text x="22.4" y="287.96" font-size="5.6" font-weight="normal" text-anchor="end" fill="#333333" class="tk">4000</text>
<line x1="24.6" y1="273.05" x2="26.4" y2="273.05" stroke="#a4a4a4" stroke-width="0.6" />
<text x="22.4" y="275.35" font-size="5.6" font-weight="normal" text-anchor="end" fill="#333333" class="tk">5000</text>
<line x1="24.6" y1="260.44" x2="26.4" y2="260.44" stroke="#a4a4a4" stroke-width="0.6" />
<text x="22.4" y="262.74" font-size="5.6" font-weight="normal" text-anchor="end" fill="#333333" class="tk">6000</text>
<line x1="24.6" y1="247.83" x2="26.4" y2="247.83" stroke="#a4a4a4" stroke-width="0.6" />
<text x="22.4" y="250.13" font-size="5.6" font-weight="normal" text-anchor="end" fill="#333333" class="tk">7000</text>
<line x1="24.6" y1="235.22" x2="26.4" y2="235.22" stroke="#a4a4a4" stroke-width="0.6" />
<text x="22.4" y="237.52" font-size="5.6" font-weight="normal" text-anchor="end" fill="#333333" class="tk">8000</text>
<line x1="24.6" y1="222.61" x2="26.4" y2="222.61" stroke="#a4a4a4" stroke-width="0.6" />
<text x="22.4" y="224.91" font-size="5.6" font-weight="normal" text-anchor="end" fill="#333333" class="tk">9000</text>
<line x1="29.2" y1="336.1" x2="29.2" y2="334.5" stroke="#a4a4a4" stroke-width="0.6" />
<line x1="38.08" y1="336.1" x2="38.08" y2="334.5" stroke="#a4a4a4" stroke-width="0.6" />
<line x1="46.96" y1="336.1" x2="46.96" y2="334.5" stroke="#a4a4a4" stroke-width="0.6" />
<line x1="55.85" y1="336.1" x2="55.85" y2="334.5" stroke="#a4a4a4" stroke-width="0.6" />
<line x1="64.73" y1="336.1" x2="64.73" y2="334.5" stroke="#a4a4a4" stroke-width="0.6" />
<line x1="73.61" y1="336.1" x2="73.61" y2="334.5" stroke="#a4a4a4" stroke-width="0.6" />
<line x1="82.49" y1="336.1" x2="82.49" y2="334.5" stroke="#a4a4a4" stroke-width="0.6" />
<line x1="91.37" y1="336.1" x2="91.37" y2="334.5" stroke="#a4a4a4" stroke-width="0.6" />
<line x1="100.26" y1="336.1" x2="100.26" y2="334.5" stroke="#a4a4a4" stroke-width="0.6" />
<line x1="109.14" y1="336.1" x2="109.14" y2="334.5" stroke="#a4a4a4" stroke-width="0.6" />
<line x1="118.02" y1="336.1" x2="118.02" y2="334.5" stroke="#a4a4a4" stroke-width="0.6" />
<line x1="126.9" y1="336.1" x2="126.9" y2="334.5" stroke="#a4a4a4" stroke-width="0.6" />
<line x1="135.78" y1="336.1" x2="135.78" y2="334.5" stroke="#a4a4a4" stroke-width="0.6" />
<line x1="144.67" y1="336.1" x2="144.67" y2="334.5" stroke="#a4a4a4" stroke-width="0.6" />
<line x1="153.55" y1="336.1" x2="153.55" y2="334.5" stroke="#a4a4a4" stroke-width="0.6" />
<line x1="162.43" y1="336.1" x2="162.43" y2="334.5" stroke="#a4a4a4" stroke-width="0.6" />
<line x1="171.31" y1="336.1" x2="171.31" y2="334.5" stroke="#a4a4a4" stroke-width="0.6" />
<line x1="180.19" y1="336.1" x2="180.19" y2="334.5" stroke="#a4a4a4" stroke-width="0.6" />
<line x1="189.08" y1="336.1" x2="189.08" y2="334.5" stroke="#a4a4a4" stroke-width="0.6" />
<line x1="197.96" y1="336.1" x2="197.96" y2="334.5" stroke="#a4a4a4" stroke-width="0.6" />
<rect x="43.46" y="335.5" width="7" height="0.6" fill="#8a8a8a"/>
<rect x="52.35" y="335.3" width="7" height="0.8" fill="#8a8a8a"/>
<rect x="61.23" y="334.6" width="7" height="0.8" fill="#ff0000"/>
<rect x="61.23" y="335.4" width="7" height="0.6" fill="#00c800"/>
<rect x="61.23" y="336" width="7" height="0.1" fill="#0000ff"/>
<rect x="61.23" y="334.6" width="7" height="1.5" fill="none" stroke="#202020" stroke-width="0.35"/>
<line x1="61.23" y1="335.4" x2="68.23" y2="335.4" stroke="#202020" stroke-width="0.3" />
<line x1="61.23" y1="336" x2="68.23" y2="336" stroke="#202020" stroke-width="0.3" />
<rect x="70.11" y="334" width="7" height="1.1" fill="#ff0000"/>
<rect x="70.11" y="335.1" width="7" height="0.9" fill="#00c800"/>
<rect x="70.11" y="336" width="7" height="0.1" fill="#0000ff"/>
<rect x="70.11" y="334" width="7" height="2.1" fill="none" stroke="#202020" stroke-width="0.35"/>
<line x1="70.11" y1="335.1" x2="77.11" y2="335.1" stroke="#202020" stroke-width="0.3" />
<line x1="70.11" y1="336" x2="77.11" y2="336" stroke="#202020" stroke-width="0.3" />
<rect x="78.99" y="330.9" width="7" height="2.6" fill="#ff0000"/>
<rect x="78.99" y="333.5" width="7" height="2" fill="#00c800"/>
<rect x="78.99" y="335.5" width="7" height="0.6" fill="#0000ff"/>
<rect x="78.99" y="330.9" width="7" height="5.2" fill="none" stroke="#202020" stroke-width="0.35"/>
<line x1="78.99" y1="333.5" x2="85.99" y2="333.5" stroke="#202020" stroke-width="0.3" />
<line x1="78.99" y1="335.5" x2="85.99" y2="335.5" stroke="#202020" stroke-width="0.3" />
<rect x="87.87" y="328" width="7" height="3.9" fill="#ff0000"/>
<rect x="87.87" y="331.9" width="7" height="2.9" fill="#00c800"/>
<rect x="87.87" y="334.8" width="7" height="1.3" fill="#0000ff"/>
<rect x="87.87" y="328" width="7" height="8.1" fill="none" stroke="#202020" stroke-width="0.35"/>
<line x1="87.87" y1="331.9" x2="94.87" y2="331.9" stroke="#202020" stroke-width="0.3" />
<line x1="87.87" y1="334.8" x2="94.87" y2="334.8" stroke="#202020" stroke-width="0.3" />
<rect x="96.76" y="318.1" width="7" height="5.6" fill="#ff0000"/>
<rect x="96.76" y="323.7" width="7" height="5.1" fill="#00c800"/>
<rect x="96.76" y="328.8" width="7" height="7.3" fill="#0000ff"/>
<rect x="96.76" y="318.1" width="7" height="18" fill="none" stroke="#202020" stroke-width="0.35"/>
<line x1="96.76" y1="323.7" x2="103.76" y2="323.7" stroke="#202020" stroke-width="0.3" />
<line x1="96.76" y1="328.8" x2="103.76" y2="328.8" stroke="#202020" stroke-width="0.3" />
<rect x="105.64" y="247.3" width="7" height="6.4" fill="#ff0000"/>
<rect x="105.64" y="253.7" width="7" height="6.1" fill="#00c800"/>
<rect x="105.64" y="259.8" width="7" height="76.3" fill="#0000ff"/>
<rect x="105.64" y="247.3" width="7" height="88.8" fill="none" stroke="#202020" stroke-width="0.35"/>
<line x1="105.64" y1="253.7" x2="112.64" y2="253.7" stroke="#202020" stroke-width="0.3" />
<line x1="105.64" y1="259.8" x2="112.64" y2="259.8" stroke="#202020" stroke-width="0.3" />
<rect x="114.52" y="228.1" width="7" height="6.7" fill="#ff0000"/>
<rect x="114.52" y="234.8" width="7" height="6.8" fill="#00c800"/>
<rect x="114.52" y="241.6" width="7" height="94.5" fill="#0000ff"/>
<rect x="114.52" y="228.1" width="7" height="108" fill="none" stroke="#202020" stroke-width="0.35"/>
<line x1="114.52" y1="234.8" x2="121.52" y2="234.8" stroke="#202020" stroke-width="0.3" />
<line x1="114.52" y1="241.6" x2="121.52" y2="241.6" stroke="#202020" stroke-width="0.3" />
<rect x="123.4" y="312.1" width="7" height="5.9" fill="#ff0000"/>
<rect x="123.4" y="318" width="7" height="5.9" fill="#00c800"/>
<rect x="123.4" y="323.9" width="7" height="12.2" fill="#0000ff"/>
<rect x="123.4" y="312.1" width="7" height="24" fill="none" stroke="#202020" stroke-width="0.35"/>
<line x1="123.4" y1="318" x2="130.4" y2="318" stroke="#202020" stroke-width="0.3" />
<line x1="123.4" y1="323.9" x2="130.4" y2="323.9" stroke="#202020" stroke-width="0.3" />
<rect x="132.28" y="327" width="7" height="3.9" fill="#ff0000"/>
<rect x="132.28" y="330.9" width="7" height="4.1" fill="#00c800"/>
<rect x="132.28" y="335" width="7" height="1.1" fill="#0000ff"/>
<rect x="132.28" y="327" width="7" height="9.1" fill="none" stroke="#202020" stroke-width="0.35"/>
<line x1="132.28" y1="330.9" x2="139.28" y2="330.9" stroke="#202020" stroke-width="0.3" />
<line x1="132.28" y1="335" x2="139.28" y2="335" stroke="#202020" stroke-width="0.3" />
<rect x="141.17" y="330.8" width="7" height="2.7" fill="#ff0000"/>
<rect x="141.17" y="333.5" width="7" height="2.4" fill="#00c800"/>
<rect x="141.17" y="335.9" width="7" height="0.2" fill="#0000ff"/>
<rect x="141.17" y="330.8" width="7" height="5.3" fill="none" stroke="#202020" stroke-width="0.35"/>
<line x1="141.17" y1="333.5" x2="148.17" y2="333.5" stroke="#202020" stroke-width="0.3" />
<line x1="141.17" y1="335.9" x2="148.17" y2="335.9" stroke="#202020" stroke-width="0.3" />
<rect x="150.05" y="333.9" width="7" height="1.1" fill="#ff0000"/>
<rect x="150.05" y="335" width="7" height="1" fill="#00c800"/>
<rect x="150.05" y="336" width="7" height="0.1" fill="#0000ff"/>
<rect x="150.05" y="333.9" width="7" height="2.2" fill="none" stroke="#202020" stroke-width="0.35"/>
<line x1="150.05" y1="335" x2="157.05" y2="335" stroke="#202020" stroke-width="0.3" />
<line x1="150.05" y1="336" x2="157.05" y2="336" stroke="#202020" stroke-width="0.3" />
<rect x="158.93" y="334.5" width="7" height="0.8" fill="#ff0000"/>
<rect x="158.93" y="335.3" width="7" height="0.7" fill="#00c800"/>
<rect x="158.93" y="336" width="7" height="0.1" fill="#0000ff"/>
<rect x="158.93" y="334.5" width="7" height="1.6" fill="none" stroke="#202020" stroke-width="0.35"/>
<line x1="158.93" y1="335.3" x2="165.93" y2="335.3" stroke="#202020" stroke-width="0.3" />
<line x1="158.93" y1="336" x2="165.93" y2="336" stroke="#202020" stroke-width="0.3" />
<rect x="167.81" y="335.1" width="7" height="1" fill="#8a8a8a"/>
<rect x="176.69" y="335.4" width="7" height="0.7" fill="#8a8a8a"/>
<text transform="translate(31.1,337.5) rotate(-90)" class="tk" font-size="5.6" text-anchor="end" fill="#333333">-0.00016</text>
<text transform="translate(39.98,337.5) rotate(-90)" class="tk" font-size="5.6" text-anchor="end" fill="#333333">-0.00015</text>
<text transform="translate(48.86,337.5) rotate(-90)" class="tk" font-size="5.6" text-anchor="end" fill="#333333">-0.00013</text>
<text transform="translate(57.75,337.5) rotate(-90)" class="tk" font-size="5.6" text-anchor="end" fill="#333333">-0.00011</text>
<text transform="translate(66.63,337.5) rotate(-90)" class="tk" font-size="5.6" text-anchor="end" fill="#333333">-9.6e-05</text>
<text transform="translate(75.51,337.5) rotate(-90)" class="tk" font-size="5.6" text-anchor="end" fill="#333333">-7.9e-05</text>
<text transform="translate(84.39,337.5) rotate(-90)" class="tk" font-size="5.6" text-anchor="end" fill="#333333">-6.2e-05</text>
<text transform="translate(93.27,337.5) rotate(-90)" class="tk" font-size="5.6" text-anchor="end" fill="#333333">-4.5e-05</text>
<text transform="translate(102.16,337.5) rotate(-90)" class="tk" font-size="5.6" text-anchor="end" fill="#333333">-2.8e-05</text>
<text transform="translate(111.04,337.5) rotate(-90)" class="tk" font-size="5.6" text-anchor="end" fill="#333333">-1.1e-05</text>
<text transform="translate(119.92,337.5) rotate(-90)" class="tk" font-size="5.6" text-anchor="end" fill="#333333">5.98e-06</text>
<text transform="translate(128.8,337.5) rotate(-90)" class="tk" font-size="5.6" text-anchor="end" fill="#333333">2.3e-05</text>
<text transform="translate(137.68,337.5) rotate(-90)" class="tk" font-size="5.6" text-anchor="end" fill="#333333">4e-05</text>
<text transform="translate(146.57,337.5) rotate(-90)" class="tk" font-size="5.6" text-anchor="end" fill="#333333">5.7e-05</text>
<text transform="translate(155.45,337.5) rotate(-90)" class="tk" font-size="5.6" text-anchor="end" fill="#333333">7.4e-05</text>
<text transform="translate(164.33,337.5) rotate(-90)" class="tk" font-size="5.6" text-anchor="end" fill="#333333">9.1e-05</text>
<text transform="translate(173.21,337.5) rotate(-90)" class="tk" font-size="5.6" text-anchor="end" fill="#333333">0.000108</text>
<text transform="translate(182.09,337.5) rotate(-90)" class="tk" font-size="5.6" text-anchor="end" fill="#333333">0.000125</text>
<text transform="translate(190.98,337.5) rotate(-90)" class="tk" font-size="5.6" text-anchor="end" fill="#333333">0.000142</text>
<text transform="translate(199.86,337.5) rotate(-90)" class="tk" font-size="5.6" text-anchor="end" fill="#333333">0.000159</text>
<line x1="114.4" y1="217.6" x2="114.4" y2="336.1" stroke="#f79a2c" stroke-width="1.3" />
<text x="113.1" y="216.1" font-size="6.5" font-weight="bold" text-anchor="middle" fill="#000" class="bd">Error Histogram with 20 Bins</text>
<text x="113.1" y="365.3" font-size="6.5" font-weight="bold" text-anchor="middle" fill="#222" class="bd">Errors = Targets - Outputs</text>
<text transform="translate(7.5,276.5) rotate(-90)" class="bd" font-size="6.8" font-weight="bold" text-anchor="middle" fill="#111">Instances</text>
<rect x="154.3" y="221.4" width="43.2" height="28.4" fill="#fff" stroke="#b0b0b0" stroke-width="0.6"/>
<rect x="155.9" y="223.3" width="16.4" height="5" fill="#0000ff" stroke="#303030" stroke-width="0.3"/>
<text x="173.8" y="227.6" font-size="5.0" font-weight="normal" text-anchor="start" fill="#222" class="tk">Training</text>
<rect x="155.9" y="230.1" width="16.4" height="5" fill="#00c800" stroke="#303030" stroke-width="0.3"/>
<text x="173.8" y="234.4" font-size="5.0" font-weight="normal" text-anchor="start" fill="#222" class="tk">Validation</text>
<rect x="155.9" y="236.9" width="16.4" height="5" fill="#ff0000" stroke="#303030" stroke-width="0.3"/>
<text x="173.8" y="241.2" font-size="5.0" font-weight="normal" text-anchor="start" fill="#222" class="tk">Test</text>
<line x1="155.9" y1="246" x2="172.3" y2="246" stroke="#f79a2c" stroke-width="1.1" />
<text x="173.8" y="247.8" font-size="5.0" font-weight="normal" text-anchor="start" fill="#222" class="tk">Zero Error</text>
<text x="107.4" y="390.7" font-size="12.3" font-weight="bold" text-anchor="middle" fill="#000" class="bd">(d)</text>
<line x1="505.8" y1="217.7" x2="505.8" y2="336.5" stroke="#a4a4a4" stroke-width="0.8" />
<line x1="505.4" y1="336.1" x2="682.6" y2="336.1" stroke="#a4a4a4" stroke-width="0.8" />
<line x1="505.8" y1="336.1" x2="507.6" y2="336.1" stroke="#a4a4a4" stroke-width="0.6" />
<text x="503.6" y="338.4" font-size="5.6" font-weight="normal" text-anchor="end" fill="#333333" class="tk">0</text>
<line x1="505.8" y1="312.44" x2="507.6" y2="312.44" stroke="#a4a4a4" stroke-width="0.6" />
<text x="503.6" y="314.74" font-size="5.6" font-weight="normal" text-anchor="end" fill="#333333" class="tk">2000</text>
<line x1="505.8" y1="288.78" x2="507.6" y2="288.78" stroke="#a4a4a4" stroke-width="0.6" />
<text x="503.6" y="291.08" font-size="5.6" font-weight="normal" text-anchor="end" fill="#333333" class="tk">4000</text>
<line x1="505.8" y1="265.12" x2="507.6" y2="265.12" stroke="#a4a4a4" stroke-width="0.6" />
<text x="503.6" y="267.42" font-size="5.6" font-weight="normal" text-anchor="end" fill="#333333" class="tk">6000</text>
<line x1="505.8" y1="241.46" x2="507.6" y2="241.46" stroke="#a4a4a4" stroke-width="0.6" />
<text x="503.6" y="243.76" font-size="5.6" font-weight="normal" text-anchor="end" fill="#333333" class="tk">8000</text>
<line x1="505.8" y1="217.8" x2="507.6" y2="217.8" stroke="#a4a4a4" stroke-width="0.6" />
<text x="503.6" y="220.1" font-size="5.6" font-weight="normal" text-anchor="end" fill="#333333" class="tk">10000</text>
<line x1="510.3" y1="336.1" x2="510.3" y2="334.5" stroke="#a4a4a4" stroke-width="0.6" />
<line x1="519.13" y1="336.1" x2="519.13" y2="334.5" stroke="#a4a4a4" stroke-width="0.6" />
<line x1="527.95" y1="336.1" x2="527.95" y2="334.5" stroke="#a4a4a4" stroke-width="0.6" />
<line x1="536.78" y1="336.1" x2="536.78" y2="334.5" stroke="#a4a4a4" stroke-width="0.6" />
<line x1="545.6" y1="336.1" x2="545.6" y2="334.5" stroke="#a4a4a4" stroke-width="0.6" />
<line x1="554.43" y1="336.1" x2="554.43" y2="334.5" stroke="#a4a4a4" stroke-width="0.6" />
<line x1="563.26" y1="336.1" x2="563.26" y2="334.5" stroke="#a4a4a4" stroke-width="0.6" />
<line x1="572.08" y1="336.1" x2="572.08" y2="334.5" stroke="#a4a4a4" stroke-width="0.6" />
<line x1="580.91" y1="336.1" x2="580.91" y2="334.5" stroke="#a4a4a4" stroke-width="0.6" />
<line x1="589.73" y1="336.1" x2="589.73" y2="334.5" stroke="#a4a4a4" stroke-width="0.6" />
<line x1="598.56" y1="336.1" x2="598.56" y2="334.5" stroke="#a4a4a4" stroke-width="0.6" />
<line x1="607.39" y1="336.1" x2="607.39" y2="334.5" stroke="#a4a4a4" stroke-width="0.6" />
<line x1="616.21" y1="336.1" x2="616.21" y2="334.5" stroke="#a4a4a4" stroke-width="0.6" />
<line x1="625.04" y1="336.1" x2="625.04" y2="334.5" stroke="#a4a4a4" stroke-width="0.6" />
<line x1="633.86" y1="336.1" x2="633.86" y2="334.5" stroke="#a4a4a4" stroke-width="0.6" />
<line x1="642.69" y1="336.1" x2="642.69" y2="334.5" stroke="#a4a4a4" stroke-width="0.6" />
<line x1="651.52" y1="336.1" x2="651.52" y2="334.5" stroke="#a4a4a4" stroke-width="0.6" />
<line x1="660.34" y1="336.1" x2="660.34" y2="334.5" stroke="#a4a4a4" stroke-width="0.6" />
<line x1="669.17" y1="336.1" x2="669.17" y2="334.5" stroke="#a4a4a4" stroke-width="0.6" />
<line x1="677.99" y1="336.1" x2="677.99" y2="334.5" stroke="#a4a4a4" stroke-width="0.6" />
<rect x="524.45" y="335.3" width="7" height="0.8" fill="#8a8a8a"/>
<rect x="533.28" y="335" width="7" height="1.1" fill="#8a8a8a"/>
<rect x="542.1" y="334" width="7" height="1.2" fill="#ff0000"/>
<rect x="542.1" y="335.2" width="7" height="0.8" fill="#00c800"/>
<rect x="542.1" y="336" width="7" height="0.1" fill="#0000ff"/>
<rect x="542.1" y="334" width="7" height="2.1" fill="none" stroke="#202020" stroke-width="0.35"/>
<line x1="542.1" y1="335.2" x2="549.1" y2="335.2" stroke="#202020" stroke-width="0.3" />
<line x1="542.1" y1="336" x2="549.1" y2="336" stroke="#202020" stroke-width="0.3" />
<rect x="550.93" y="332.1" width="7" height="1.9" fill="#ff0000"/>
<rect x="550.93" y="334" width="7" height="2" fill="#00c800"/>
<rect x="550.93" y="336" width="7" height="0.1" fill="#0000ff"/>
<rect x="550.93" y="332.1" width="7" height="4" fill="none" stroke="#202020" stroke-width="0.35"/>
<line x1="550.93" y1="334" x2="557.93" y2="334" stroke="#202020" stroke-width="0.3" />
<line x1="550.93" y1="336" x2="557.93" y2="336" stroke="#202020" stroke-width="0.3" />
<rect x="559.76" y="329.1" width="7" height="3.2" fill="#ff0000"/>
<rect x="559.76" y="332.3" width="7" height="2.8" fill="#00c800"/>
<rect x="559.76" y="335.1" width="7" height="1" fill="#0000ff"/>
<rect x="559.76" y="329.1" width="7" height="7" fill="none" stroke="#202020" stroke-width="0.35"/>
<line x1="559.76" y1="332.3" x2="566.76" y2="332.3" stroke="#202020" stroke-width="0.3" />
<line x1="559.76" y1="335.1" x2="566.76" y2="335.1" stroke="#202020" stroke-width="0.3" />
<rect x="568.58" y="319.8" width="7" height="5.1" fill="#ff0000"/>
<rect x="568.58" y="324.9" width="7" height="4.7" fill="#00c800"/>
<rect x="568.58" y="329.6" width="7" height="6.5" fill="#0000ff"/>
<rect x="568.58" y="319.8" width="7" height="16.3" fill="none" stroke="#202020" stroke-width="0.35"/>
<line x1="568.58" y1="324.9" x2="575.58" y2="324.9" stroke="#202020" stroke-width="0.3" />
<line x1="568.58" y1="329.6" x2="575.58" y2="329.6" stroke="#202020" stroke-width="0.3" />
<rect x="577.41" y="263" width="7" height="6.8" fill="#ff0000"/>
<rect x="577.41" y="269.8" width="7" height="6.3" fill="#00c800"/>
<rect x="577.41" y="276.1" width="7" height="60" fill="#0000ff"/>
<rect x="577.41" y="263" width="7" height="73.1" fill="none" stroke="#202020" stroke-width="0.35"/>
<line x1="577.41" y1="269.8" x2="584.41" y2="269.8" stroke="#202020" stroke-width="0.3" />
<line x1="577.41" y1="276.1" x2="584.41" y2="276.1" stroke="#202020" stroke-width="0.3" />
<rect x="586.23" y="228.1" width="7" height="7.3" fill="#ff0000"/>
<rect x="586.23" y="235.4" width="7" height="6.4" fill="#00c800"/>
<rect x="586.23" y="241.8" width="7" height="94.3" fill="#0000ff"/>
<rect x="586.23" y="228.1" width="7" height="108" fill="none" stroke="#202020" stroke-width="0.35"/>
<line x1="586.23" y1="235.4" x2="593.23" y2="235.4" stroke="#202020" stroke-width="0.3" />
<line x1="586.23" y1="241.8" x2="593.23" y2="241.8" stroke="#202020" stroke-width="0.3" />
<rect x="595.06" y="307.1" width="7" height="5.8" fill="#ff0000"/>
<rect x="595.06" y="312.9" width="7" height="6" fill="#00c800"/>
<rect x="595.06" y="318.9" width="7" height="17.2" fill="#0000ff"/>
<rect x="595.06" y="307.1" width="7" height="29" fill="none" stroke="#202020" stroke-width="0.35"/>
<line x1="595.06" y1="312.9" x2="602.06" y2="312.9" stroke="#202020" stroke-width="0.3" />
<line x1="595.06" y1="318.9" x2="602.06" y2="318.9" stroke="#202020" stroke-width="0.3" />
<rect x="603.89" y="327" width="7" height="4" fill="#ff0000"/>
<rect x="603.89" y="331" width="7" height="3.8" fill="#00c800"/>
<rect x="603.89" y="334.8" width="7" height="1.3" fill="#0000ff"/>
<rect x="603.89" y="327" width="7" height="9.1" fill="none" stroke="#202020" stroke-width="0.35"/>
<line x1="603.89" y1="331" x2="610.89" y2="331" stroke="#202020" stroke-width="0.3" />
<line x1="603.89" y1="334.8" x2="610.89" y2="334.8" stroke="#202020" stroke-width="0.3" />
<rect x="612.71" y="331.5" width="7" height="2.2" fill="#ff0000"/>
<rect x="612.71" y="333.7" width="7" height="2.3" fill="#00c800"/>
<rect x="612.71" y="336" width="7" height="0.1" fill="#0000ff"/>
<rect x="612.71" y="331.5" width="7" height="4.6" fill="none" stroke="#202020" stroke-width="0.35"/>
<line x1="612.71" y1="333.7" x2="619.71" y2="333.7" stroke="#202020" stroke-width="0.3" />
<line x1="612.71" y1="336" x2="619.71" y2="336" stroke="#202020" stroke-width="0.3" />
<rect x="621.54" y="333.7" width="7" height="1.2" fill="#ff0000"/>
<rect x="621.54" y="334.9" width="7" height="1.1" fill="#00c800"/>
<rect x="621.54" y="336" width="7" height="0.1" fill="#0000ff"/>
<rect x="621.54" y="333.7" width="7" height="2.4" fill="none" stroke="#202020" stroke-width="0.35"/>
<line x1="621.54" y1="334.9" x2="628.54" y2="334.9" stroke="#202020" stroke-width="0.3" />
<line x1="621.54" y1="336" x2="628.54" y2="336" stroke="#202020" stroke-width="0.3" />
<rect x="630.36" y="334.7" width="7" height="0.7" fill="#ff0000"/>
<rect x="630.36" y="335.4" width="7" height="0.6" fill="#00c800"/>
<rect x="630.36" y="336" width="7" height="0.1" fill="#0000ff"/>
<rect x="630.36" y="334.7" width="7" height="1.4" fill="none" stroke="#202020" stroke-width="0.35"/>
<line x1="630.36" y1="335.4" x2="637.36" y2="335.4" stroke="#202020" stroke-width="0.3" />
<line x1="630.36" y1="336" x2="637.36" y2="336" stroke="#202020" stroke-width="0.3" />
<rect x="639.19" y="335.3" width="7" height="0.8" fill="#8a8a8a"/>
<rect x="648.02" y="335.6" width="7" height="0.5" fill="#8a8a8a"/>
<text transform="translate(512.2,337.5) rotate(-90)" class="tk" font-size="5.6" text-anchor="end" fill="#333333">-0.00016</text>
<text transform="translate(521.03,337.5) rotate(-90)" class="tk" font-size="5.6" text-anchor="end" fill="#333333">-0.00014</text>
<text transform="translate(529.85,337.5) rotate(-90)" class="tk" font-size="5.6" text-anchor="end" fill="#333333">-0.00012</text>
<text transform="translate(538.68,337.5) rotate(-90)" class="tk" font-size="5.6" text-anchor="end" fill="#333333">-0.0001</text>
<text transform="translate(547.5,337.5) rotate(-90)" class="tk" font-size="5.6" text-anchor="end" fill="#333333">-8.5e-05</text>
<text transform="translate(556.33,337.5) rotate(-90)" class="tk" font-size="5.6" text-anchor="end" fill="#333333">-6.7e-05</text>
<text transform="translate(565.16,337.5) rotate(-90)" class="tk" font-size="5.6" text-anchor="end" fill="#333333">-4.9e-05</text>
<text transform="translate(573.98,337.5) rotate(-90)" class="tk" font-size="5.6" text-anchor="end" fill="#333333">-3.1e-05</text>
<text transform="translate(582.81,337.5) rotate(-90)" class="tk" font-size="5.6" text-anchor="end" fill="#333333">-1.3e-05</text>
<text transform="translate(591.63,337.5) rotate(-90)" class="tk" font-size="5.6" text-anchor="end" fill="#333333">5.24e-06</text>
<text transform="translate(600.46,337.5) rotate(-90)" class="tk" font-size="5.6" text-anchor="end" fill="#333333">2.33e-05</text>
<text transform="translate(609.29,337.5) rotate(-90)" class="tk" font-size="5.6" text-anchor="end" fill="#333333">4.14e-05</text>
<text transform="translate(618.11,337.5) rotate(-90)" class="tk" font-size="5.6" text-anchor="end" fill="#333333">5.95e-05</text>
<text transform="translate(626.94,337.5) rotate(-90)" class="tk" font-size="5.6" text-anchor="end" fill="#333333">7.75e-05</text>
<text transform="translate(635.76,337.5) rotate(-90)" class="tk" font-size="5.6" text-anchor="end" fill="#333333">9.56e-05</text>
<text transform="translate(644.59,337.5) rotate(-90)" class="tk" font-size="5.6" text-anchor="end" fill="#333333">0.000114</text>
<text transform="translate(653.42,337.5) rotate(-90)" class="tk" font-size="5.6" text-anchor="end" fill="#333333">0.000132</text>
<text transform="translate(662.24,337.5) rotate(-90)" class="tk" font-size="5.6" text-anchor="end" fill="#333333">0.00015</text>
<text transform="translate(671.07,337.5) rotate(-90)" class="tk" font-size="5.6" text-anchor="end" fill="#333333">0.000168</text>
<text transform="translate(679.89,337.5) rotate(-90)" class="tk" font-size="5.6" text-anchor="end" fill="#333333">0.000186</text>
<line x1="587.3" y1="218.2" x2="587.3" y2="336.1" stroke="#f79a2c" stroke-width="1.3" />
<text x="594.4" y="216.1" font-size="6.5" font-weight="bold" text-anchor="middle" fill="#000" class="bd">Error Histogram with 20 Bins</text>
<text x="594.4" y="365.5" font-size="6.5" font-weight="bold" text-anchor="middle" fill="#222" class="bd">Errors = Targets - Outputs</text>
<text transform="translate(485.9,276.7) rotate(-90)" class="bd" font-size="6.8" font-weight="bold" text-anchor="middle" fill="#111">Instances</text>
<rect x="635.4" y="221.4" width="43.4" height="28.4" fill="#fff" stroke="#b0b0b0" stroke-width="0.6"/>
<rect x="637" y="223.3" width="16.4" height="5" fill="#0000ff" stroke="#303030" stroke-width="0.3"/>
<text x="654.9" y="227.6" font-size="5.0" font-weight="normal" text-anchor="start" fill="#222" class="tk">Training</text>
<rect x="637" y="230.1" width="16.4" height="5" fill="#00c800" stroke="#303030" stroke-width="0.3"/>
<text x="654.9" y="234.4" font-size="5.0" font-weight="normal" text-anchor="start" fill="#222" class="tk">Validation</text>
<rect x="637" y="236.9" width="16.4" height="5" fill="#ff0000" stroke="#303030" stroke-width="0.3"/>
<text x="654.9" y="241.2" font-size="5.0" font-weight="normal" text-anchor="start" fill="#222" class="tk">Test</text>
<line x1="637" y1="246" x2="653.4" y2="246" stroke="#f79a2c" stroke-width="1.1" />
<text x="654.9" y="247.8" font-size="5.0" font-weight="normal" text-anchor="start" fill="#222" class="tk">Zero Error</text>
<text x="588.3" y="391.6" font-size="12.3" font-weight="bold" text-anchor="middle" fill="#000" class="bd">(f)</text>
</svg>
</body></html>
